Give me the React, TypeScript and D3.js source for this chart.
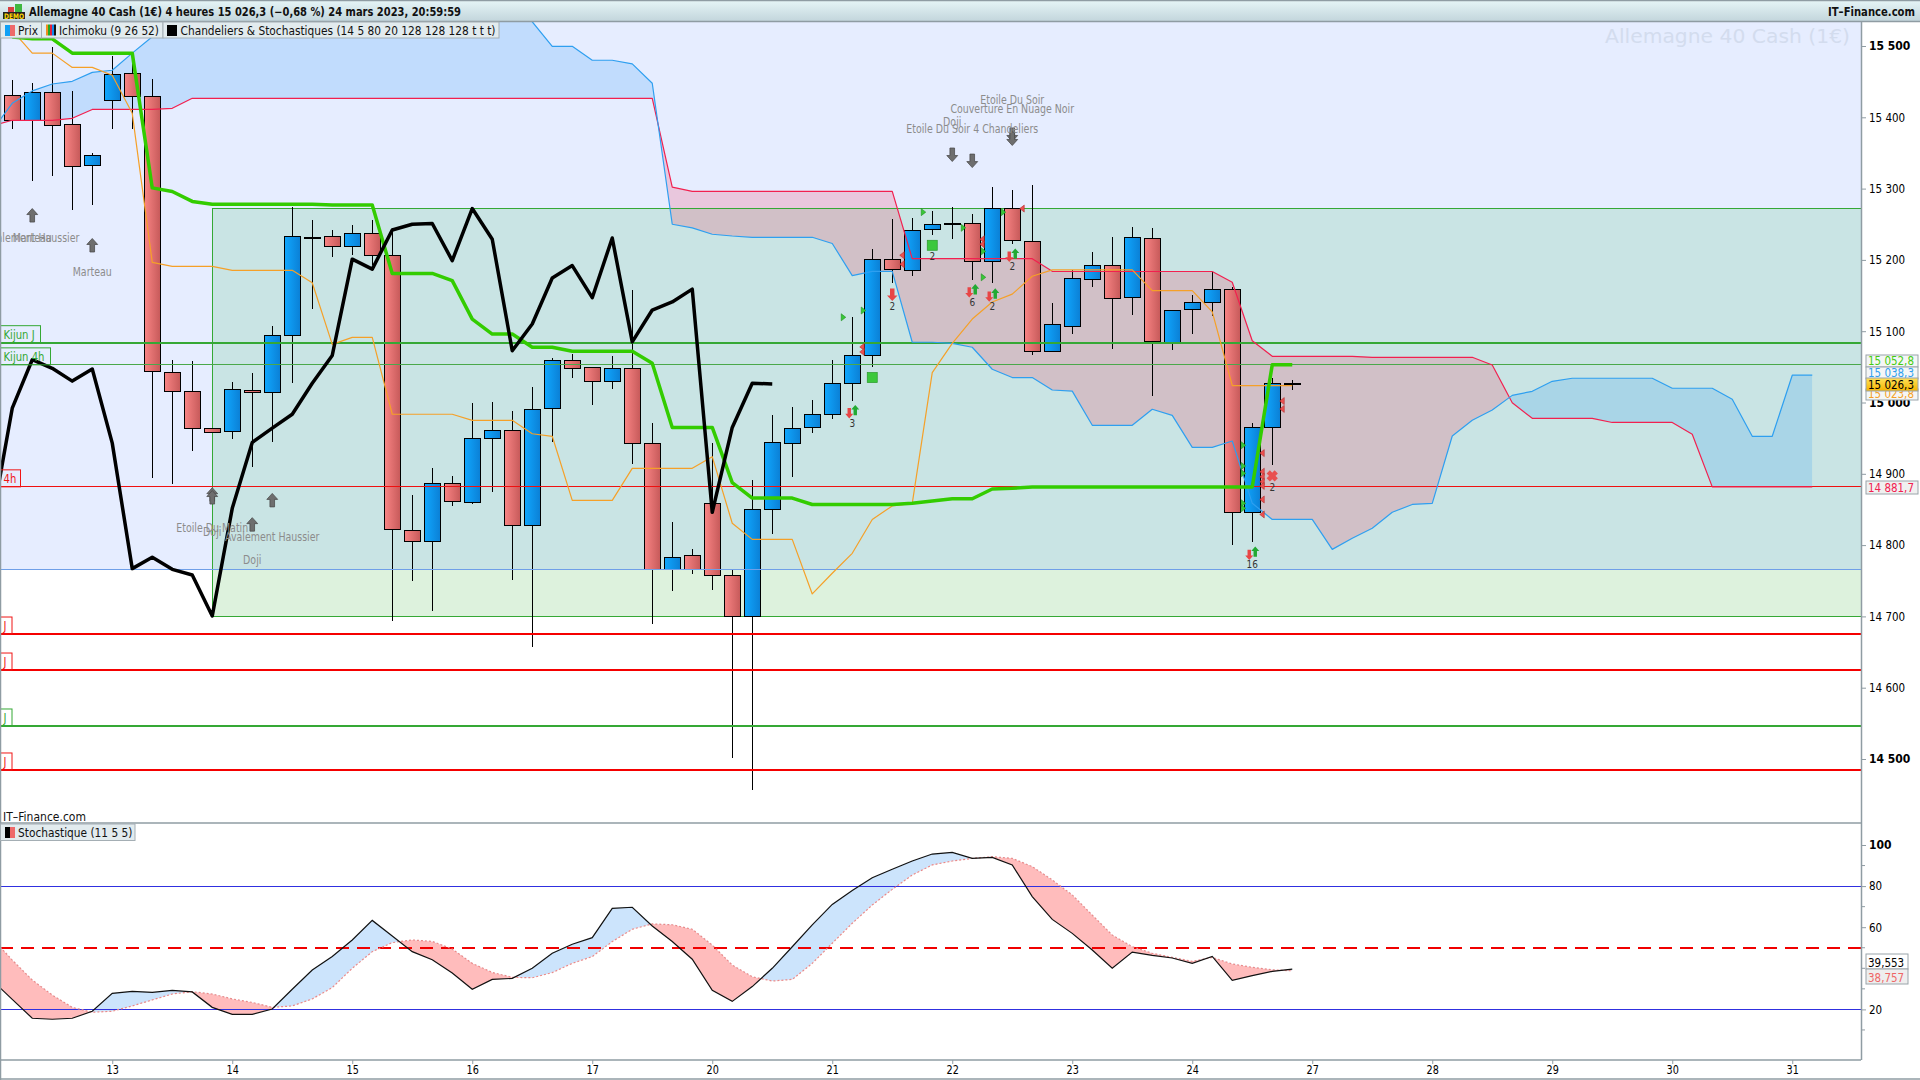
import { FC, useEffect, useRef } from 'react';
import * as d3 from 'd3';

// candles, one every 4 hours, prices
const opens = [15430.8, 15395.8, 15435, 15390, 15333, 15424, 15462, 15429, 15042, 15016, 14964, 14960, 15017, 15014, 15094, 15232, 15233, 15219, 15237, 15206, 14821, 14805, 14887, 14860, 14949, 14961, 14828, 14992, 15059, 15049, 15030, 15047, 14943, 14766, 14786, 14859, 14758, 14700.5, 14850, 14943, 14965, 14983.5, 15027, 15066, 15201, 15185, 15243, 15251, 15251, 15198, 15272, 15226, 15072, 15107, 15173, 15192, 15147.5, 15230, 15083, 15130, 15140.5, 15159, 14846, 14965, 15026.8];
const closes = [15395.8, 15435, 15388.8, 15331, 15347, 15460, 15429, 15044, 15016, 14964, 14958, 15018.5, 15014, 15094, 15233, 15231, 15219, 15237, 15206, 14822, 14805, 14887, 14861, 14950, 14961, 14828, 14990, 15059, 15048, 15030, 15047, 14943, 14766, 14783, 14766, 14758, 14700.5, 14850, 14944, 14964, 14983.5, 15027, 15066, 15201, 15187, 15241.5, 15250, 15250, 15198, 15272, 15227.5, 15072, 15110, 15174, 15192, 15146, 15232, 15085, 15129, 15140.5, 15159, 14846, 14965, 15027, 15026.3];
const highs = [15452.3, 15448, 15498, 15437, 15350, 15486, 15480, 15454, 15060, 15058, 14964, 15029, 15041, 15107, 15274, 15256, 15242, 15249, 15256, 15245, 14870, 14908, 14897, 14999, 15001, 14988, 15022, 15062, 15068, 15049, 15065, 15158, 14971, 14832, 14794.5, 14943, 14765, 14891, 14982.5, 14994, 15003.5, 15060, 15119.5, 15215, 15257, 15259, 15268.5, 15274, 15265, 15302, 15298, 15305, 15139.5, 15186, 15211, 15232, 15246, 15245, 15129, 15151, 15183, 15162, 14971, 15034, 15031.6];
const lows = [15384, 15311, 15318, 15270, 15277, 15384, 15384, 14894.5, 14885, 14932, 14958, 14949, 14909, 14944, 15028, 15131.5, 15204.5, 15207, 15193, 14694, 14750, 14707, 14855, 14858, 14875, 14751, 14657.5, 14944, 15035, 14997, 15019, 14914, 14690, 14736, 14760, 14737.5, 14502, 14457, 14816, 14896, 14957.5, 14977, 15002.5, 15050, 15167, 15178, 15235, 15230, 15172, 15167, 15223, 15067, 15072, 15096.5, 15162, 15075.5, 15123, 15009.5, 15073.6, 15096.5, 15121, 14800.6, 14804, 14912, 15017.5];

// ichimoku lines, same index as the candles
const kijun = [15512.6, 15510, 15510, 15490, 15490, 15490, 15490, 15301, 15296, 15282, 15278, 15278, 15278, 15278, 15278, 15278, 15277, 15277, 15277, 15181, 15181, 15181, 15171, 15117, 15096, 15096, 15077.5, 15077.5, 15072, 15072, 15072, 15072, 15055, 14965, 14965, 14965, 14887.5, 14866, 14866, 14866, 14857, 14857, 14857, 14857, 14857, 14858.6, 14862, 14865, 14865, 14878.7, 14879.7, 14881.5, 14881.5, 14881.5, 14881.5, 14881.5, 14881.5, 14881.5, 14881.5, 14881.5, 14881.5, 14881.5, 14881.5, 15052.8, 15052.8];
const tenkan = [15522, 15490, 15490, 15470, 15470, 15459, 15405.6, 15196.6, 15191, 15191, 15191, 15185.4, 15185.4, 15185.4, 15185.4, 15168, 15081.6, 15091.4, 15091.4, 14983.5, 14983.5, 14983.5, 14983.5, 14975, 14975, 14975, 14956.2, 14952.6, 14862.8, 14862.8, 14862.8, 14907.7, 14907.7, 14907.7, 14907.7, 14924, 14830.6, 14808, 14808, 14808, 14731.5, 14760.5, 14788.5, 14836, 14855, 14858.6, 15042, 15083, 15117, 15141, 15152, 15177, 15186, 15186, 15186, 15186, 15186, 15157, 15157, 15157, 15127, 15023.8, 15023.8, 15023.8, 15023.8];
// chikou starts one candle before the first one on screen
const chikou = [14835, 14992, 15060, 15048, 15030, 15047, 14943, 14767, 14783, 14766, 14758, 14700.5, 14851.6, 14944, 14964, 14983.5, 15027, 15066, 15201, 15187, 15242, 15250, 15251, 15199, 15272, 15229, 15072.6, 15110, 15174.6, 15192, 15147, 15230.7, 15085, 15129.7, 15141, 15159, 14846, 14965, 15027, 15026];
// senkou spans also start one candle earlier and run 26 candles past the last one
const senkouA = [15382, 15419.6, 15437, 15446.7, 15450.5, 15463, 15466, 15490, 15513, 15536.5, 15560, 15560, 15560, 15560, 15560, 15560, 15560, 15560, 15560, 15560, 15560, 15560, 15560, 15560, 15560, 15560, 15560, 15534, 15499.6, 15499.6, 15480, 15480, 15475, 15447.7, 15250, 15245, 15236, 15233.5, 15231.7, 15231.7, 15231.7, 15231.7, 15223, 15178, 15184, 15184, 15084.5, 15084.5, 15083, 15077.5, 15046.6, 15035, 15035, 15017.5, 15016, 14968, 14968, 14968, 14990.5, 14982, 14937, 14937, 14946, 14858.6, 14836, 14836, 14836, 14794, 14809.5, 14823.6, 14846, 14857, 14858.6, 14953, 14975, 14989.5, 15010, 15015.7, 15029.7, 15034, 15034, 15034, 15034, 15034, 15020, 15020, 15020, 15004.5, 14952.6, 14952.6, 15038.3, 15038.3];
const senkouB = [15388, 15395.8, 15395.8, 15395.8, 15398.6, 15411, 15411, 15411, 15411, 15412.6, 15426.6, 15426.6, 15426.6, 15426.6, 15426.6, 15426.6, 15426.6, 15426.6, 15426.6, 15426.6, 15426.6, 15426.6, 15426.6, 15426.6, 15426.6, 15426.6, 15426.6, 15426.6, 15426.6, 15426.6, 15426.6, 15426.6, 15426.6, 15426.6, 15302, 15296, 15296, 15296, 15296, 15296, 15296, 15296, 15296, 15296, 15296, 15296, 15201.7, 15201.7, 15201.7, 15201.7, 15201.7, 15201.7, 15201.7, 15184, 15183.7, 15183.7, 15183.7, 15183.7, 15183.7, 15183.7, 15183.7, 15183.7, 15168.6, 15086.7, 15064.8, 15064.8, 15064.8, 15064.8, 15064.8, 15063.4, 15063.4, 15063.4, 15063.4, 15063.4, 15063.4, 15052.6, 14999.7, 14977.8, 14977.8, 14977.8, 14977.8, 14972, 14972, 14972, 14972, 14955.5, 14881.7, 14881.7, 14881.7, 14881.7, 14881.7, 14881.7];

// stochastic, starts one candle earlier too
const stochK = [34.1, 24.9, 15.7, 15.2, 15.7, 19.1, 27.8, 28.8, 28.3, 29.3, 28.5, 21, 17.6, 17.6, 20.2, 29.8, 39.2, 45.7, 53.8, 63.3, 55.7, 48.1, 44.2, 37.7, 29.8, 34.6, 35.1, 40, 47.3, 51.7, 54.9, 69.2, 69.7, 60.6, 53, 44.4, 29.3, 23.9, 31.1, 40, 50.5, 61.1, 71.1, 77.8, 84.1, 88.2, 92.2, 95.6, 96.4, 93.5, 94, 90.3, 74.9, 63.8, 57, 48.9, 40, 47.9, 46.3, 45, 42.4, 45.8, 34.1, 36.4, 38.5, 39.553];
const stochD = [54.6, 44, 34.3, 27, 21, 18.6, 19.1, 21.7, 24.6, 27.5, 28.6, 27.5, 25.1, 23.4, 21, 21.7, 25.1, 30.6, 40, 48.1, 52.5, 53.8, 53.1, 49.4, 42.4, 38, 35.6, 35.4, 37.9, 42.4, 45.7, 53, 59, 61.6, 61.2, 59, 51.3, 41.6, 35.9, 33.8, 34.6, 42.4, 52.2, 61.9, 70.8, 78.4, 85.4, 90.3, 92.2, 93.5, 94.3, 93.5, 89.5, 83, 75.7, 65.9, 56.2, 50.5, 47.3, 45.3, 43.4, 45.3, 42.1, 40.5, 39.3, 38.757];
const stochLevels = [80, 20];
const stochMiddle = 50;

// horizontal levels
const kijunDaily = 15083.9;
const kijun4h = 15052.8;
const zoneTop = 15272.4;
const zoneBottom = 14700;
const red4h = 14881.7;
const lavenderFloor = 14766;
const redDaily = [14675.3, 14624.8, 14484.6];
const greenDaily = [14546.3];
const zoneStart = 10;

const priceTicks = [15500, 15400, 15300, 15200, 15100, 15000, 14900, 14800, 14700, 14600, 14500];
const boldTicks = [15500, 15000, 14500];
const dayLabels = ['13', '14', '15', '16', '17', '20', '21', '22', '23', '24', '27', '28', '29', '30', '31'];
const dayIndex = [5, 11, 17, 23, 29, 35, 41, 47, 53, 59, 65, 71, 77, 83, 89];
const stochTicks = [100, 80, 60, 20];
const stochMinor = [90, 70, 50, 40, 30, 10];

// candlestick patterns found by the site
const upArrows: [number, number][] = [[1, 15261.5], [4, 15219.5], [10, 14870], [10, 14866], [13, 14862], [12, 14828]];
const downArrows: [number, number][] = [[47, 15348.5], [48, 15340], [50, 15376.6], [50, 15371]];
const patternNames: [number, number, string][] = [
  [1, 15230.7, 'Avalement Haussier'],
  [1, 15230.7, 'Marteau'],
  [4, 15183, 'Marteau'],
  [10, 14824, 'Etoile Du Matin'],
  [10, 14818.4, 'Doji'],
  [13, 14811.4, 'Avalement Haussier'],
  [12, 14779, 'Doji'],
  [50, 15424, 'Etoile Du Soir'],
  [50, 15411, 'Couverture En Nuage Noir'],
  [47, 15393, 'Doji'],
  [48, 15383.6, 'Etoile Du Soir 4 Chandeliers'],
];
// small signals
const greenTriangles: [number, number][] = [[42, 15119.5], [43, 15129], [46, 15267], [48, 15245], [49, 15212], [49, 15175.6], [50, 15267], [62, 14940], [62, 14911], [62, 14900.7], [62, 14858.6], [62, 14851.6]];
const redTriangles: [number, number][] = [[44, 15206.5], [44, 15194], [42, 15078], [42, 15071], [48, 15229], [48, 15222], [50, 15272], [62, 14929], [62, 14903], [62, 14896], [62, 14889], [62, 14883], [62, 14864], [62, 14843], [63, 15002], [63, 14991]];
const arrowPairs: [number, number, string][] = [[42, 14988.5, '3'], [48, 15158, '6'], [49, 15152, '2'], [50, 15208, '2'], [62, 14790, '16']];
const greenSquares: [number, number, string][] = [[46, 15220.5, '2'], [43, 15035, '']];
const bigRedArrows: [number, number, string][] = [[44, 15152, '2']];
const redCrosses: [number, number, string][] = [[63, 14897, '2']];

const FONT = '"DejaVu Sans", sans-serif';
const ARROW = 'M0,-5 L3.5,-1 L1.5,-1 L1.5,4 L-1.5,4 L-1.5,-1 L-3.5,-1Z';
const PANEL_RIGHT = 1861;
const MAIN_TOP = 22;
const MAIN_BOTTOM = 823;
const STOCH_BOTTOM = 1060;

// the original text is narrow and tall, so squeeze the glyphs sideways
const squeeze = (sel: any, k: number) =>
  sel.each(function (this: any) {
    this.setAttribute('textLength', String(this.getComputedTextLength() * k));
    this.setAttribute('lengthAdjust', 'spacingAndGlyphs');
  });

const App: FC = () => {
  const ref = useRef<SVGSVGElement>(null);

  useEffect(() => {
    const svg = d3.select(ref.current);
    svg.selectAll('*').remove();

    const x = d3.scaleLinear().domain([0, 1]).range([12.25, 32.25]);
    const y = d3.scaleLinear().domain([15500, 14500]).range([46, 759]);
    const ys = d3.scaleLinear().domain([100, 0]).range([845, 1050.5]);

    const defs = svg.append('defs');
    const gradient = (id: string, from: string, to: string) => {
      const g = defs.append('linearGradient').attr('id', id);
      g.append('stop').attr('offset', '0%').attr('stop-color', from);
      g.append('stop').attr('offset', '100%').attr('stop-color', to);
    };
    gradient('bull', '#10a8ff', '#0b80d6');
    gradient('bear', '#f98585', '#c75a5a');
    const header = defs.append('linearGradient').attr('id', 'header').attr('x2', 0).attr('y2', 1);
    header.append('stop').attr('offset', '0%').attr('stop-color', '#e6f5f7');
    header.append('stop').attr('offset', '100%').attr('stop-color', '#c3d6dc');
    const gold = defs.append('linearGradient').attr('id', 'gold').attr('x2', 0).attr('y2', 1);
    gold.append('stop').attr('offset', '0%').attr('stop-color', '#ffe25a');
    gold.append('stop').attr('offset', '100%').attr('stop-color', '#f5b400');

    defs.append('clipPath').attr('id', 'main-clip').append('rect')
      .attr('x', 0).attr('y', MAIN_TOP).attr('width', PANEL_RIGHT).attr('height', MAIN_BOTTOM - MAIN_TOP);

    svg.append('rect').attr('width', 1920).attr('height', 1080).attr('fill', '#fff');

    const main = svg.append('g').attr('clip-path', 'url(#main-clip)');

    // background above the blue level
    main.append('rect').attr('x', 0).attr('y', MAIN_TOP).attr('width', PANEL_RIGHT)
      .attr('height', y(lavenderFloor) - MAIN_TOP).attr('fill', '#e6edff');

    // green zone, one tint over the lavender and one over the white
    main.append('rect').attr('x', x(zoneStart)).attr('y', y(zoneTop))
      .attr('width', PANEL_RIGHT - x(zoneStart)).attr('height', y(lavenderFloor) - y(zoneTop))
      .attr('fill', '#c9e4e4');
    main.append('rect').attr('x', x(zoneStart)).attr('y', y(lavenderFloor))
      .attr('width', PANEL_RIGHT - x(zoneStart)).attr('height', y(zoneBottom) - y(lavenderFloor))
      .attr('fill', '#ddf2dd');

    // kumo, coloured by which span is on top
    const spanX = (_: number, k: number) => x(k - 1);
    const band = d3.area<number>().x(spanX).y0((d) => y(d)).y1((_, k) => y(senkouB[k]));
    defs.append('clipPath').attr('id', 'above-b').append('path')
      .attr('d', d3.area<number>().x(spanX).y0(0).y1((d) => y(d))(senkouB));
    defs.append('clipPath').attr('id', 'below-b').append('path')
      .attr('d', d3.area<number>().x(spanX).y0(900).y1((d) => y(d))(senkouB));
    main.append('path').attr('d', band(senkouA)).attr('clip-path', 'url(#above-b)')
      .attr('fill', 'rgb(43,155,245)').attr('fill-opacity', 0.2);
    main.append('path').attr('d', band(senkouA)).attr('clip-path', 'url(#below-b)')
      .attr('fill', 'rgb(245,52,85)').attr('fill-opacity', 0.2);

    main.append('rect').attr('x', x(zoneStart)).attr('y', y(zoneTop))
      .attr('width', PANEL_RIGHT - x(zoneStart)).attr('height', y(zoneBottom) - y(zoneTop))
      .attr('fill', 'none').attr('stroke', '#35a835').attr('stroke-width', 1).attr('shape-rendering', 'crispEdges');

    // candles
    const candles = main.append('g').attr('shape-rendering', 'crispEdges').selectAll('g').data(opens).join('g');
    candles.append('line')
      .attr('x1', (_, i) => x(i)).attr('x2', (_, i) => x(i))
      .attr('y1', (_, i) => y(highs[i])).attr('y2', (_, i) => y(lows[i]))
      .attr('stroke', '#000').attr('stroke-width', 1);
    candles.append('rect')
      .attr('x', (_, i) => x(i) - 8).attr('width', 16)
      .attr('y', (d, i) => y(Math.max(d, closes[i])))
      .attr('height', (d, i) => Math.max(1, Math.abs(y(d) - y(closes[i]))))
      .attr('fill', (d, i) => (closes[i] >= d ? 'url(#bull)' : 'url(#bear)'))
      .attr('stroke', '#000').attr('stroke-width', 1);

    // levels
    const level = (v: number, color: string, width: number) =>
      main.append('line').attr('x1', 0).attr('x2', PANEL_RIGHT).attr('y1', y(v)).attr('y2', y(v))
        .attr('stroke', color).attr('stroke-width', width).attr('shape-rendering', 'crispEdges');
    level(lavenderFloor, '#6f9fe8', 1);
    level(kijunDaily, '#35a835', 2);
    level(kijun4h, '#4aa84a', 1);
    level(red4h, '#f01010', 1);
    redDaily.forEach((v) => level(v, '#f50000', 2));
    greenDaily.forEach((v) => level(v, '#35a835', 2));

    // ichimoku lines
    const drawLine = (values: number[], color: string, width: number, shift = 0) =>
      main.append('path')
        .attr('d', d3.line<number>().x((_, k) => x(k + shift)).y((d) => y(d))(values))
        .attr('fill', 'none').attr('stroke', color).attr('stroke-width', width).attr('stroke-linejoin', 'round');
    drawLine(senkouB, '#f2204f', 1.2, -1);
    drawLine(senkouA, '#2e9ff0', 1.2, -1);
    drawLine(tenkan, '#f5a028', 1.2);
    drawLine(kijun, '#33cc00', 3.5);
    drawLine(chikou, '#000', 3.5, -1);

    // patterns
    const grayArrow = (pts: [number, number][], flip: number) =>
      main.append('g').selectAll('path').data(pts).join('path')
        .attr('d', ARROW)
        .attr('transform', (d) => `translate(${x(d[0])},${y(d[1])}) scale(1.55,${1.5 * flip})`)
        .attr('fill', '#6e6e6e').attr('stroke', '#4a4a4a').attr('stroke-width', 0.5);
    grayArrow(upArrows, 1);
    grayArrow(downArrows, -1);
    const names = main.append('g').selectAll('text').data(patternNames).join('text')
      .attr('x', (d) => x(d[0])).attr('y', (d) => y(d[1]) + 4)
      .attr('text-anchor', 'middle').attr('font-family', FONT).attr('font-size', 11.5)
      .attr('fill', '#8c8c8c').text((d) => d[2]);
    squeeze(names, 0.82);

    // signals
    main.append('g').selectAll('path').data(greenTriangles).join('path')
      .attr('d', 'M0,-3.5 L4.5,0 L0,3.5Z')
      .attr('transform', (d) => `translate(${x(d[0]) - 11},${y(d[1])})`)
      .attr('fill', '#38c838').attr('stroke', '#1f8f1f').attr('stroke-width', 0.6);
    main.append('g').selectAll('path').data(redTriangles).join('path')
      .attr('d', 'M0,-3.5 L-4.5,0 L0,3.5Z')
      .attr('transform', (d) => `translate(${x(d[0]) + 12},${y(d[1])})`)
      .attr('fill', '#ee5050').attr('stroke', '#b03030').attr('stroke-width', 0.6);
    const small = main.append('g').selectAll('g').data(arrowPairs).join('g')
      .attr('transform', (d) => `translate(${x(d[0])},${y(d[1])})`);
    small.append('path').attr('d', ARROW).attr('transform', 'translate(-3,2) scale(1.15,-1.15)').attr('fill', '#e84545');
    small.append('path').attr('d', ARROW).attr('transform', 'translate(3,0) scale(1.15,1.15)').attr('fill', '#22aa33');
    const signalText = (sel: any, dy: number) =>
      squeeze(sel.append('text').attr('y', dy).attr('text-anchor', 'middle').attr('font-family', FONT)
        .attr('font-size', 10.5).attr('fill', '#333').text((d: any) => d[2]), 0.85);
    signalText(small, 16);
    const squares = main.append('g').selectAll('g').data(greenSquares).join('g')
      .attr('transform', (d) => `translate(${x(d[0])},${y(d[1])})`);
    squares.append('rect').attr('x', -5).attr('y', -5).attr('width', 10).attr('height', 10)
      .attr('fill', '#3cc83c').attr('stroke', '#2a9a2a').attr('stroke-width', 0.7);
    signalText(squares, 15);
    const big = main.append('g').selectAll('g').data(bigRedArrows).join('g')
      .attr('transform', (d) => `translate(${x(d[0])},${y(d[1])})`);
    big.append('path').attr('d', ARROW).attr('transform', 'scale(1.5,-1.4)').attr('fill', '#e84545');
    signalText(big, 16);
    const crosses = main.append('g').selectAll('g').data(redCrosses).join('g')
      .attr('transform', (d) => `translate(${x(d[0])},${y(d[1])})`);
    crosses.append('path').attr('d', 'M-4,-4 L4,4 M-4,4 L4,-4').attr('stroke', '#e85050').attr('stroke-width', 4.6);
    signalText(crosses, 15);

    // watermark
    main.append('text').attr('x', 1850).attr('y', 43).attr('text-anchor', 'end')
      .attr('font-family', FONT).attr('font-size', 20).attr('fill', '#d3dcee')
      .attr('textLength', 245).attr('lengthAdjust', 'spacingAndGlyphs')
      .text('Allemagne 40 Cash (1€)');

    // left tags
    const tags: [string, number, number, string][] = [
      ['Kijun J', kijunDaily, 40, '#35a835'],
      ['Kijun 4h', kijun4h, 50, '#35a835'],
      ['4h', red4h, 20, '#f01515'],
      ['J', redDaily[0], 11.5, '#f01515'],
      ['J', redDaily[1], 11.5, '#f01515'],
      ['J', greenDaily[0], 11.5, '#35a835'],
      ['J', redDaily[2], 11.5, '#f01515'],
    ];
    const tag = svg.append('g').selectAll('g').data(tags).join('g')
      .attr('transform', (d) => `translate(0.5,${y(d[1]) - 17})`);
    tag.append('rect').attr('width', (d) => d[2]).attr('height', 17)
      .attr('fill', 'none').attr('stroke', (d) => d[3]).attr('stroke-width', 1);
    squeeze(tag.append('text').attr('x', 3).attr('y', 13).attr('font-family', FONT).attr('font-size', 12)
      .attr('fill', (d) => d[3]).text((d) => d[0]), 0.84);

    // stochastic panel
    const stochX = (_: number, k: number) => x(k - 1);
    const stochBand = d3.area<number>().x(stochX).y0((d) => ys(d)).y1((_, k) => ys(stochD[k]));
    defs.append('clipPath').attr('id', 'above-d').append('path')
      .attr('d', d3.area<number>().x(stochX).y0(823).y1((d) => ys(d))(stochD));
    defs.append('clipPath').attr('id', 'below-d').append('path')
      .attr('d', d3.area<number>().x(stochX).y0(1060).y1((d) => ys(d))(stochD));
    defs.append('clipPath').attr('id', 'stoch-clip').append('rect')
      .attr('x', 0).attr('y', MAIN_BOTTOM).attr('width', PANEL_RIGHT).attr('height', STOCH_BOTTOM - MAIN_BOTTOM);
    const stoch = svg.append('g').attr('clip-path', 'url(#stoch-clip)');
    stoch.append('path').attr('d', stochBand(stochK)).attr('clip-path', 'url(#above-d)').attr('fill', '#cce4fc');
    stoch.append('path').attr('d', stochBand(stochK)).attr('clip-path', 'url(#below-d)').attr('fill', '#ffbcbc');
    stochLevels.forEach((v) => {
      stoch.append('line').attr('x1', 0).attr('x2', PANEL_RIGHT).attr('y1', ys(v)).attr('y2', ys(v))
        .attr('stroke', '#3030e0').attr('stroke-width', 1).attr('shape-rendering', 'crispEdges');
    });
    stoch.append('line').attr('x1', 0).attr('x2', PANEL_RIGHT).attr('y1', ys(stochMiddle)).attr('y2', ys(stochMiddle))
      .attr('stroke', '#f00000').attr('stroke-width', 2).attr('stroke-dasharray', '13 8').attr('shape-rendering', 'crispEdges');
    const stochLine = d3.line<number>().x(stochX).y((d) => ys(d));
    stoch.append('path').attr('d', stochLine(stochD)).attr('fill', 'none')
      .attr('stroke', '#e88a8a').attr('stroke-width', 1.2).attr('stroke-dasharray', '2 2');
    stoch.append('path').attr('d', stochLine(stochK)).attr('fill', 'none')
      .attr('stroke', '#111').attr('stroke-width', 1.2);

    // frame
    const frame = '#8f9ca3';
    const rule = (x1: number, y1: number, x2: number, y2: number, w = 1.5) =>
      svg.append('line').attr('x1', x1).attr('y1', y1).attr('x2', x2).attr('y2', y2)
        .attr('stroke', frame).attr('stroke-width', w);
    rule(PANEL_RIGHT + 0.5, MAIN_TOP, PANEL_RIGHT + 0.5, STOCH_BOTTOM);
    rule(0, MAIN_BOTTOM, PANEL_RIGHT, MAIN_BOTTOM);
    rule(0, STOCH_BOTTOM, PANEL_RIGHT, STOCH_BOTTOM);
    rule(0.5, MAIN_TOP, 0.5, 1080);
    rule(0, 1079, 1920, 1079);

    // price axis
    const priceAxis = svg.append('g').attr('transform', `translate(${PANEL_RIGHT},0)`)
      .call(d3.axisRight(y).tickValues(priceTicks).tickSize(5).tickPadding(3)
        .tickFormat((d) => d3.format(',')(d as number).replace(',', ' ')) as any);
    priceAxis.select('.domain').remove();
    priceAxis.selectAll('line').attr('stroke', frame);
    priceAxis.selectAll('text').attr('font-family', FONT).attr('font-size', 12).attr('fill', '#000')
      .attr('font-weight', (d: any) => (boldTicks.includes(d) ? 700 : 400));
    priceAxis.selectAll('text').each(function (this: any, d: any) {
      squeeze(d3.select(this), boldTicks.includes(d) ? 0.9 : 0.86);
    });

    // stochastic axis
    const stochAxis = svg.append('g').attr('transform', `translate(${PANEL_RIGHT},0)`)
      .call(d3.axisRight(ys).tickValues(stochTicks).tickSize(5).tickPadding(3) as any);
    stochAxis.select('.domain').remove();
    stochAxis.selectAll('line').attr('stroke', frame);
    stochAxis.selectAll('text').attr('font-family', FONT).attr('font-size', 12).attr('fill', '#000')
      .attr('font-weight', (d: any) => (d === 100 ? 700 : 400));
    stochAxis.selectAll('text').each(function (this: any, d: any) {
      squeeze(d3.select(this), d === 100 ? 0.9 : 0.86);
    });
    svg.append('g').selectAll('line').data(stochMinor).join('line')
      .attr('x1', PANEL_RIGHT).attr('x2', PANEL_RIGHT + 4).attr('y1', (d) => ys(d)).attr('y2', (d) => ys(d))
      .attr('stroke', frame);

    // day axis
    const dayAxis = svg.append('g').attr('transform', `translate(0,${STOCH_BOTTOM})`)
      .call(d3.axisBottom(x).tickValues(dayIndex).tickSize(4).tickPadding(2)
        .tickFormat((_, k) => dayLabels[k]) as any);
    dayAxis.select('.domain').remove();
    dayAxis.selectAll('line').attr('stroke', frame);
    squeeze(dayAxis.selectAll('text').attr('font-family', FONT).attr('font-size', 11.5).attr('fill', '#000'), 0.84);

    // price tags on the right
    const priceTags: [string, number, number, string, string][] = [
      ['15 052,8', 355, 12, '#44cc11', '#f4f6f6'],
      ['15 038,3', 367, 12, '#2e9ff0', '#f4f6f6'],
      ['15 023,8', 389, 11, '#f5a028', '#f4f6f6'],
      ['15 026,3', 378, 13, '#000', 'url(#gold)'],
      ['14 881,7', 481, 13, '#f2204f', '#f0f0f0'],
      ['39,553', 954, 15, '#000', '#fff'],
      ['38,757', 969, 15, '#ee6666', '#eeeeee'],
    ];
    const pt = svg.append('g').selectAll('g').data(priceTags).join('g')
      .attr('transform', (d) => `translate(1866,${d[1]})`);
    pt.append('rect').attr('width', (d) => (d[0].length > 6 ? 52 : 42)).attr('height', (d) => d[2])
      .attr('fill', (d) => d[4]).attr('stroke', '#9aa4aa').attr('stroke-width', 1);
    squeeze(pt.append('text').attr('x', 2).attr('y', (d) => d[2] - 2).attr('font-family', FONT).attr('font-size', 12)
      .attr('fill', (d) => d[3]).text((d) => d[0]), 0.86);

    // header strip
    svg.append('rect').attr('width', 1920).attr('height', 21).attr('fill', 'url(#header)');
    rule(0, 0.5, 1920, 0.5);
    rule(0, 21.5, 1920, 21.5);
    svg.append('text').attr('x', 29).attr('y', 16).attr('font-family', FONT).attr('font-size', 11.5)
      .attr('font-weight', 700).attr('fill', '#111').attr('textLength', 432)
      .attr('lengthAdjust', 'spacingAndGlyphs')
      .text('Allemagne 40 Cash (1€) 4 heures 15 026,3 (−0,68 %) 24 mars 2023, 20:59:59');
    svg.append('text').attr('x', 1915).attr('y', 16).attr('text-anchor', 'end').attr('font-family', FONT)
      .attr('font-size', 11.5).attr('font-weight', 700).attr('fill', '#111')
      .attr('textLength', 87).attr('lengthAdjust', 'spacingAndGlyphs').text('IT–Finance.com');
    // demo logo
    svg.append('rect').attr('x', 3).attr('y', 12).attr('width', 22).attr('height', 7).attr('fill', '#222');
    svg.append('text').attr('x', 4).attr('y', 19).attr('font-family', FONT).attr('font-size', 7.5)
      .attr('font-weight', 700).attr('fill', '#ffd800').attr('textLength', 20)
      .attr('lengthAdjust', 'spacingAndGlyphs').text('DEMO');
    svg.append('rect').attr('x', 8).attr('y', 7).attr('width', 6).attr('height', 5).attr('fill', '#d84040');
    svg.append('rect').attr('x', 15).attr('y', 4).attr('width', 7).attr('height', 8).attr('fill', '#40b840');

    // legend strip
    const legendCells: [number, number, string, number][] = [
      [0.5, 41, 'Prix', 20],
      [41.5, 121.5, 'Ichimoku (9 26 52)', 100],
      [163, 336, 'Chandeliers & Stochastiques (14 5 80 20 128 128 128 t t t)', 315],
    ];
    const lc = svg.append('g').selectAll('g').data(legendCells).join('g')
      .attr('transform', (d) => `translate(${d[0]},22)`);
    lc.append('rect').attr('width', (d) => d[1]).attr('height', 16)
      .attr('fill', '#e2ebee').attr('stroke', '#a4aeb4').attr('stroke-width', 1);
    lc.append('text').attr('x', 17.5).attr('y', 12.5).attr('font-family', FONT).attr('font-size', 11.5)
      .attr('fill', '#111').attr('textLength', (d) => d[3]).attr('lengthAdjust', 'spacingAndGlyphs')
      .text((d) => d[2]);
    const swatch = (px: number, py: number, w: number, color: string, h = 11) =>
      svg.append('rect').attr('x', px).attr('y', py).attr('width', w).attr('height', h).attr('fill', color);
    swatch(5, 25, 5, '#10a0f5');
    swatch(10, 25, 5, '#ee6a6a');
    ['#f09020', '#22aa22', '#e02040', '#1188ee', '#111'].forEach((c, k) => swatch(46 + k * 2, 24.5, 2, c));
    swatch(167, 25, 10, '#000');

    // stochastic legend
    svg.append('text').attr('x', 3).attr('y', 821).attr('font-family', FONT).attr('font-size', 11.5)
      .attr('fill', '#111').attr('textLength', 83).attr('lengthAdjust', 'spacingAndGlyphs').text('IT–Finance.com');
    svg.append('rect').attr('x', 0.5).attr('y', 824).attr('width', 134.5).attr('height', 16.5)
      .attr('fill', '#e2ebee').attr('stroke', '#a4aeb4');
    swatch(5, 827, 5, '#000');
    swatch(10, 827, 5, '#ee6a6a');
    svg.append('text').attr('x', 18).attr('y', 836.5).attr('font-family', FONT).attr('font-size', 11.5)
      .attr('fill', '#111').attr('textLength', 114.5).attr('lengthAdjust', 'spacingAndGlyphs')
      .text('Stochastique (11 5 5)');
  }, []);

  return <svg ref={ref} width={1920} height={1080} style={{ position: 'absolute', left: 0, top: 0 }} />;
};

export default App;
